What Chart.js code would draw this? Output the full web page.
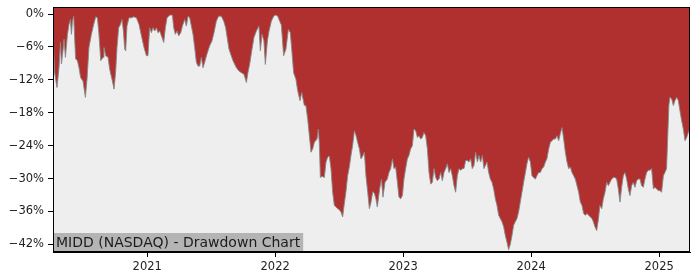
<!DOCTYPE html>
<html>
<head>
<meta charset="utf-8">
<script src="https://cdn.jsdelivr.net/npm/chart.js@4.4.1/dist/chart.umd.min.js"></script>
<style>
  html, body { margin: 0; padding: 0; background: #fff; }
  #wrap { width: 700px; height: 280px; }
</style>
</head>
<body>
<div id="wrap"><canvas id="chart" width="700" height="280"></canvas></div>
<script>
// decimal-year timestamps and drawdown (%)
const years = [
  2020.264,2020.277,2020.295,2020.311,2020.322,2020.330,2020.342,2020.350,2020.361,2020.377,
  2020.389,2020.400,2020.408,2020.416,2020.426,2020.434,2020.441,2020.455,2020.467,2020.480,
  2020.498,2020.517,2020.530,2020.545,2020.564,2020.582,2020.598,2020.611,2020.623,2020.637,
  2020.655,2020.662,2020.676,2020.694,2020.707,2020.728,2020.741,2020.754,2020.764,2020.777,
  2020.791,2020.803,2020.814,2020.824,2020.832,2020.842,2020.858,2020.877,2020.895,2020.916,
  2020.936,2020.955,2020.975,2020.994,2021.006,2021.019,2021.033,2021.045,2021.059,2021.072,
  2021.084,2021.098,2021.116,2021.129,2021.142,2021.155,2021.176,2021.197,2021.207,2021.220,
  2021.233,2021.246,2021.262,2021.275,2021.293,2021.306,2021.319,2021.332,2021.345,2021.358,
  2021.371,2021.384,2021.397,2021.410,2021.423,2021.436,2021.449,2021.467,2021.488,2021.506,
  2021.522,2021.540,2021.558,2021.579,2021.598,2021.613,2021.627,2021.639,2021.652,2021.670,
  2021.697,2021.717,2021.736,2021.756,2021.775,2021.787,2021.801,2021.819,2021.834,2021.853,
  2021.873,2021.884,2021.897,2021.912,2021.923,2021.939,2021.952,2021.970,2021.988,2022.004,
  2022.020,2022.035,2022.048,2022.066,2022.084,2022.103,2022.118,2022.129,2022.144,2022.162,
  2022.176,2022.194,2022.207,2022.228,2022.240,2022.254,2022.267,2022.280,2022.293,2022.306,
  2022.327,2022.337,2022.345,2022.353,2022.366,2022.384,2022.397,2022.410,2022.423,2022.436,
  2022.449,2022.462,2022.475,2022.488,2022.501,2022.514,2022.527,2022.540,2022.553,2022.566,
  2022.580,2022.592,2022.605,2022.619,2022.631,2022.644,2022.658,2022.670,2022.684,2022.697,
  2022.709,2022.723,2022.736,2022.748,2022.762,2022.775,2022.787,2022.798,2022.816,2022.830,
  2022.842,2022.858,2022.876,2022.889,2022.902,2022.916,2022.928,2022.941,2022.955,2022.967,
  2022.980,2022.994,2023.006,2023.019,2023.033,2023.045,2023.058,2023.072,2023.084,2023.098,
  2023.111,2023.123,2023.137,2023.150,2023.162,2023.176,2023.189,2023.202,2023.215,2023.228,
  2023.241,2023.254,2023.267,2023.280,2023.293,2023.306,2023.319,2023.332,2023.345,2023.358,
  2023.371,2023.384,2023.397,2023.410,2023.423,2023.436,2023.449,2023.462,2023.475,2023.488,
  2023.501,2023.514,2023.527,2023.540,2023.553,2023.566,2023.580,2023.592,2023.605,2023.619,
  2023.631,2023.655,2023.668,2023.681,2023.694,2023.707,2023.720,2023.733,2023.746,2023.759,
  2023.772,2023.785,2023.798,2023.811,2023.824,2023.838,2023.850,2023.863,2023.876,2023.889,
  2023.902,2023.915,2023.928,2023.941,2023.955,2023.967,2023.980,2023.994,2024.006,2024.019,
  2024.033,2024.045,2024.058,2024.072,2024.084,2024.098,2024.111,2024.123,2024.137,2024.150,
  2024.162,2024.176,2024.189,2024.202,2024.215,2024.228,2024.241,2024.254,2024.267,2024.280,
  2024.293,2024.306,2024.319,2024.332,2024.345,2024.358,2024.371,2024.384,2024.397,2024.410,
  2024.423,2024.436,2024.449,2024.462,2024.475,2024.486,2024.498,2024.512,2024.525,2024.537,
  2024.551,2024.564,2024.577,2024.590,2024.603,2024.616,2024.629,2024.642,2024.655,2024.668,
  2024.681,2024.694,2024.707,2024.720,2024.733,2024.746,2024.759,2024.772,2024.785,2024.798,
  2024.811,2024.824,2024.837,2024.850,2024.863,2024.876,2024.889,2024.902,2024.915,2024.928,
  2024.941,2024.955,2024.967,2024.980,2024.993,2025.006,2025.019,2025.033,2025.045,2025.058,
  2025.066,2025.076,2025.084,2025.098,2025.111,2025.123,2025.137,2025.150,2025.162,2025.176,
  2025.189,2025.202,2025.215,2025.228,2025.241
]
const drawdown = [
  -3.7,-10.7,-13.4,-9.8,-5.2,-9.1,-6.7,-4.6,-7.9,-3.7,
  -1.9,-1.0,-3.7,-1.3,-0.4,-4.9,-8.2,-8.5,-9.8,-11.6,
  -12.2,-15.2,-11.9,-6.1,-3.7,-1.9,-0.5,-0.7,-3.7,-8.5,
  -7.9,-6.1,-7.6,-7.9,-10.1,-12.2,-13.7,-10.4,-6.1,-2.5,
  -1.9,-1.0,-3.1,-6.4,-6.7,-2.2,-0.7,-0.7,-0.5,-0.7,
  -1.9,-4.0,-6.1,-7.6,-7.6,-2.5,-3.4,-2.5,-3.1,-2.5,
  -3.4,-3.1,-4.3,-5.2,-2.5,-0.7,-0.2,-0.2,-2.5,-3.7,
  -3.1,-4.0,-3.4,-2.2,-1.0,-2.2,-0.4,-0.7,-2.2,-3.7,
  -6.1,-8.8,-9.5,-9.5,-7.9,-9.8,-8.8,-7.3,-5.8,-4.9,
  -3.4,-1.3,-0.4,-0.4,-1.3,-2.5,-4.6,-6.4,-7.3,-8.5,
  -9.8,-10.4,-10.7,-11.0,-12.5,-10.7,-9.1,-6.4,-4.3,-3.1,
  -2.2,-6.7,-3.7,-4.9,-9.2,-4.9,-3.1,-1.3,-0.4,-0.2,
  -0.4,-1.3,-2.0,-7.6,-6.4,-2.8,-3.4,-6.4,-10.7,-11.9,
  -14.0,-15.8,-14.3,-16.7,-16.7,-19.2,-22.2,-25.2,-24.6,-23.4,
  -22.8,-21.0,-23.6,-29.8,-29.6,-29.8,-27.0,-26.1,-25.9,-28.2,
  -32.5,-34.9,-35.2,-35.5,-35.7,-36.1,-37.0,-34.6,-32.4,-29.5,
  -27.8,-25.8,-24.0,-21.3,-22.1,-23.4,-24.6,-26.4,-25.9,-25.2,
  -29.5,-32.5,-35.5,-34.4,-32.4,-32.7,-33.7,-35.2,-31.9,-30.1,
  -33.4,-30.7,-30.1,-28.9,-28.2,-26.4,-28.2,-27.9,-30.7,-33.4,
  -33.7,-33.1,-30.1,-28.2,-26.4,-25.8,-24.6,-24.0,-21.0,-21.3,
  -22.5,-22.2,-22.8,-22.5,-21.6,-22.2,-24.6,-28.9,-31.0,-30.7,
  -28.2,-29.8,-30.4,-30.1,-28.9,-30.4,-28.9,-28.2,-27.3,-28.9,
  -28.2,-29.5,-31.3,-32.5,-29.5,-28.2,-28.5,-28.2,-28.2,-26.7,
  -26.7,-27.0,-26.4,-28.2,-27.6,-25.2,-27.0,-25.8,-27.0,-25.8,
  -28.2,-27.0,-28.9,-30.1,-30.7,-31.9,-33.7,-34.9,-36.7,-37.3,
  -37.9,-38.8,-40.4,-41.6,-43.0,-41.9,-40.4,-38.5,-37.9,-37.3,
  -36.1,-34.3,-32.5,-30.7,-28.9,-27.3,-26.1,-27.0,-29.5,-29.8,
  -30.1,-29.5,-28.9,-28.9,-28.2,-27.9,-27.0,-26.4,-24.6,-23.4,
  -23.1,-22.8,-22.8,-22.2,-23.1,-21.8,-20.7,-22.8,-25.2,-27.0,
  -28.2,-27.9,-28.9,-29.5,-30.1,-31.3,-32.5,-34.3,-34.9,-36.4,
  -36.7,-36.4,-36.7,-37.0,-37.3,-37.9,-38.8,-39.5,-37.5,-34.9,
  -35.5,-33.7,-32.5,-30.7,-31.3,-30.7,-30.1,-29.8,-29.8,-30.1,
  -31.9,-34.3,-31.6,-29.5,-28.9,-30.1,-31.9,-33.1,-31.3,-30.7,
  -31.6,-30.4,-30.1,-30.1,-31.3,-31.6,-30.1,-28.9,-28.5,-28.5,
  -28.2,-31.9,-31.6,-31.9,-32.2,-32.2,-32.5,-29.5,-28.9,-28.2,
  -23.0,-16.7,-15.2,-15.5,-16.7,-15.8,-15.2,-15.8,-17.6,-19.5,
  -21.0,-23.1,-22.5,-21.6,-21.0
]
const yearTicks = [2021, 2022, 2023, 2024, 2025]
const pctTicks = [0, -6, -12, -18, -24, -30, -36, -42]
const title = 'MIDD (NASDAQ) - Drawdown Chart'

const FONT = 'DejaVu Sans'

const plotDecor = {
  id: 'plotDecor',
  beforeDraw(chart) {
    const { ctx, chartArea: a } = chart
    ctx.save()
    ctx.fillStyle = '#eeeeee'
    ctx.fillRect(a.left, a.top, a.right - a.left, a.bottom - a.top)
    ctx.restore()
  },
  afterDraw(chart) {
    const { ctx, chartArea: a } = chart
    ctx.save()
    // title box in the lower left corner
    ctx.font = '14px "' + FONT + '"'
    const w = ctx.measureText(title).width
    ctx.fillStyle = '#b4b4b4'
    ctx.fillRect(a.left, a.bottom - 19, w + 6, 19)
    ctx.fillStyle = '#1c1c1c'
    ctx.textBaseline = 'alphabetic'
    ctx.fillText(title, a.left + 3, a.bottom - 5)
    // frame
    ctx.strokeStyle = '#000'
    ctx.lineWidth = 1
    ctx.strokeRect(Math.round(a.left) + 0.5, Math.round(a.top) + 0.5,
      Math.round(a.right - a.left) - 1, Math.round(a.bottom - a.top) - 1)
    ctx.restore()
  }
}

const points = years.map((t, i) => ({ x: t, y: drawdown[i] }))

new Chart(document.getElementById('chart').getContext('2d'), {
  type: 'line',
  data: {
    datasets: [{
      data: points,
      borderColor: 'rgba(135,135,135,0.9)',
      borderWidth: 1,
      backgroundColor: '#b03030',
      fill: 'end',
      pointRadius: 0,
      tension: 0
    }]
  },
  options: {
    responsive: false,
    animation: false,
    layout: { padding: { top: 7, right: 10, left: 0, bottom: 0 } },
    plugins: { legend: { display: false }, tooltip: { enabled: false } },
    scales: {
      x: {
        type: 'linear',
        min: 2020.264,
        max: 2025.241,
        afterBuildTicks: s => { s.ticks = yearTicks.map(v => ({ value: v })) },
        afterFit: s => { s.height = 28; s.paddingLeft = 0; s.paddingRight = 0 },
        ticks: { color: '#222', font: { family: FONT, size: 11.5 }, padding: 3, callback: v => String(v) },
        grid: { drawOnChartArea: false, drawTicks: true, tickLength: 5, color: '#000' },
        border: { display: true, color: '#000' }
      },
      y: {
        min: -43.4,
        max: 1.28,
        afterBuildTicks: s => { s.ticks = pctTicks.map(v => ({ value: v })) },
        afterFit: s => { s.width = 53; s.paddingTop = 0; s.paddingBottom = 0 },
        ticks: {
          color: '#222',
          font: { family: FONT, size: 11.5 },
          padding: 4,
          callback: v => (v === 0 ? '0' : '\u2212' + Math.abs(v)) + '%'
        },
        grid: { drawOnChartArea: false, drawTicks: true, tickLength: 5, color: '#000' },
        border: { display: true, color: '#000' }
      }
    }
  },
  plugins: [plotDecor]
})
</script>
</body>
</html>
